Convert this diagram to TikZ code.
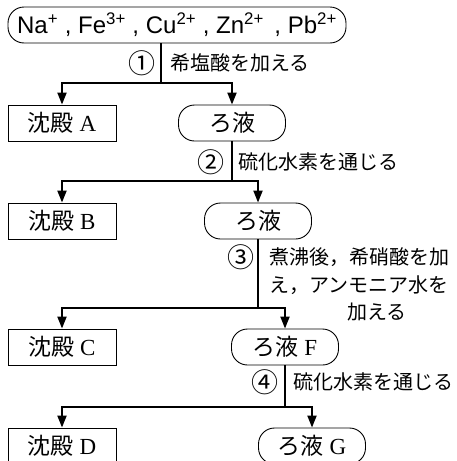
\documentclass[tikz,border=0pt]{standalone}
\usepackage{fontspec}
\setmainfont{Liberation Serif}
\newfontfamily\jp{Noto Sans CJK JP}
\newfontfamily\hel{Liberation Sans}
\usetikzlibrary{arrows.meta}
\begin{document}
\begin{tikzpicture}[x=1pt,y=-1pt,
  ppt/.style={draw,line width=0.9pt,minimum width=108pt,minimum height=36pt,inner sep=0pt,font=\fontsize{23}{23}\selectfont},
  filt/.style={draw,line width=0.9pt,rounded corners=16pt,minimum width=107pt,minimum height=36pt,inner sep=0pt,font=\fontsize{23}{23}\selectfont},
  conn/.style={line width=2pt},
  arr/.style={line width=2pt,-{Triangle[length=12pt,width=9pt]}},
  lbl/.style={inner sep=0pt,font=\jp\fontsize{20}{28}\selectfont},
  num/.style={inner sep=0pt,font=\jp\fontsize{27}{27}\selectfont},
]
\useasboundingbox (0,0) rectangle (456,461);
\clip (0,0) rectangle (456,461);
% top
\node[draw,line width=0.9pt,rounded corners=16pt,minimum width=338pt,minimum height=36pt,inner sep=0pt,font=\hel\fontsize{24}{24}\selectfont] (top) at (177,25)
  {Na\textsuperscript{+} , Fe\textsuperscript{3+} , Cu\textsuperscript{2+} , Zn\textsuperscript{2+}\,  , Pb\textsuperscript{2+}};
% level nodes
\node[ppt] (pA) at (62,123) {{\jp 沈殿} A};
\node[filt] (f1) at (232,123) {\jp ろ液};
\node[ppt] (pB) at (62,221) {{\jp 沈殿} B};
\node[filt] (f2) at (258,221) {\jp ろ液};
\node[ppt] (pC) at (62,347) {{\jp 沈殿} C};
\node[filt] (fF) at (285,347) {{\jp ろ液} F};
\node[ppt] (pD) at (62,446) {{\jp 沈殿} D};
\node[filt] (fG) at (312,446) {{\jp ろ液} G};
% junctions
\coordinate (j1) at (161,83);
\coordinate (j2) at (232,181);
\coordinate (j3) at (258,308);
\coordinate (j4) at (285,407);
% connectors
\draw[conn] (top.south -| j1) -- (j1);
\draw[arr] (j1) -| (pA.north);
\draw[arr] (j1) -| (f1.north);
\draw[conn] (f1.south) -- (j2);
\draw[arr] (j2) -| (pB.north);
\draw[arr] (j2) -| (f2.north);
\draw[conn] (f2.south) -- (j3);
\draw[arr] (j3) -| (pC.north);
\draw[arr] (j3) -| (fF.north);
\draw[conn] (fF.south) -- (j4);
\draw[arr] (j4) -| (pD.north);
\draw[arr] (j4) -| (fG.north);
% labels
\node[num] (n1) at (142,63) {①};
\node[lbl,anchor=west] (t1) at (170,63) {希塩酸を加える};
\node[num] (n2) at (211,162) {②};
\node[lbl,anchor=west] (t2) at (238,162) {硫化水素を通じる};
\node[num] (n3) at (241,257) {③};
\node[lbl,anchor=west] (t3a) at (269,257) {煮沸後，希硝酸を加};
\node[lbl,anchor=west] (t3b) at (269,285) {え，アンモニア水を};
\node[lbl,anchor=west] (t3c) at (347,312) {加える};
\node[num] (n4) at (265,382) {④};
\node[lbl,anchor=west] (t4) at (293,382) {硫化水素を通じる};
\end{tikzpicture}
\end{document}
